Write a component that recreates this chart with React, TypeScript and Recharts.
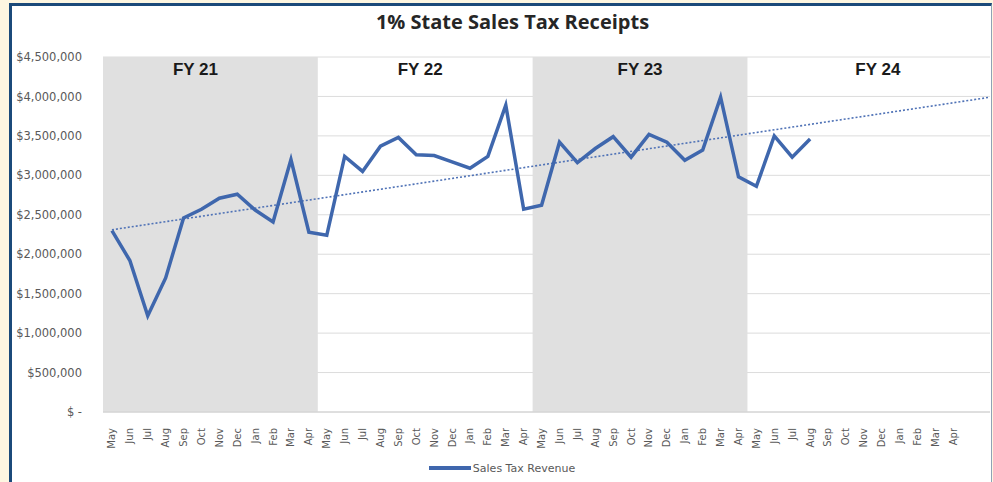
import React from 'react';
import {
  LineChart,
  Line,
  XAxis,
  YAxis,
  CartesianGrid,
  ReferenceArea,
  Legend,
} from 'recharts';

const MONTHS = ['May', 'Jun', 'Jul', 'Aug', 'Sep', 'Oct', 'Nov', 'Dec', 'Jan', 'Feb', 'Mar', 'Apr'];
const FISCAL_YEARS = ['FY 21', 'FY 22', 'FY 23', 'FY 24'];

// monthly receipts, May FY21 .. Aug FY24
const revenue = [
  2300000, 1920000, 1220000, 1700000, 2460000, 2570000, 2710000, 2760000, 2560000, 2410000, 3200000, 2280000,
  2240000, 3240000, 3050000, 3370000, 3480000, 3260000, 3250000, 3170000, 3090000, 3240000, 3890000, 2570000,
  2620000, 3420000, 3160000, 3340000, 3490000, 3230000, 3520000, 3420000, 3190000, 3320000, 3990000, 2980000,
  2860000, 3500000, 3230000, 3460000,
];

// linear trendline (forecast forward past the last month)
const trendMonths = [0, 49.05];
const trendValues = [2310000, 3990000];

const yTicks = [0, 500000, 1000000, 1500000, 2000000, 2500000, 3000000, 3500000, 4000000, 4500000];

const monthLabels = FISCAL_YEARS.flatMap(() => MONTHS);
const monthTicks = monthLabels.map((_, i) => i);

const data = revenue.map((v, i) => ({ m: i, revenue: v }));
const trendData = trendMonths.map((m, i) => ({ m, trend: trendValues[i] }));

const BLUE = '#3f67ad';
const SHADE = '#e0e0e0';

const fmtMoney = (v: number) => (v === 0 ? '$ -' : '$' + v.toLocaleString('en-US'));

const MonthTick = (props: any) => {
  const { x, y, payload } = props;
  return (
    <g transform={`translate(${x},${y})`}>
      <text
        transform="rotate(-90)"
        x={-8}
        y={0}
        dy={3.5}
        textAnchor="end"
        fill="#595959"
        fontSize={10}
        fontFamily="DejaVu Sans, sans-serif"
      >
        {monthLabels[payload.value]}
      </text>
    </g>
  );
};

const LegendContent = (props: any) => {
  const items = (props.payload || []).filter((p: any) => p.type !== 'none');
  return (
    <div style={{ display: 'flex', justifyContent: 'center', alignItems: 'center', height: 24 }}>
      {items.map((p: any) => (
        <div key={p.value} style={{ display: 'flex', alignItems: 'center', marginLeft: 14 }}>
          <div style={{ width: 42, height: 3.5, background: BLUE, marginRight: 2 }} />
          <span style={{ fontFamily: 'DejaVu Sans, sans-serif', fontSize: 11, color: '#595959' }}>{p.value}</span>
        </div>
      ))}
    </div>
  );
};

const fyLabel = (value: string, dx: number) => ({
  value,
  position: 'insideTop' as const,
  offset: 6,
  dx,
  fill: '#1a1a1a',
  fontSize: 17,
  fontWeight: 'bold',
  fontFamily: 'Liberation Sans, Arial, sans-serif',
});

export default function App() {
  return (
    <div style={{ position: 'absolute', left: 0, top: 0, width: 993, height: 482, background: '#fdf6e1', overflow: 'hidden' }}>
      <div
        style={{
          position: 'absolute',
          left: 9,
          top: 3,
          width: 979,
          height: 482,
          background: '#fff',
          borderLeft: '3px solid #1b4a7a',
          borderTop: '3px solid #1b4a7a',
          borderRight: '1px solid #8fa2b6',
        }}
      />
      <div
        style={{
          position: 'absolute',
          left: 16,
          top: 8,
          width: 993,
          textAlign: 'center',
          fontFamily: '"Open Sans", sans-serif',
          fontWeight: 'bold',
          fontSize: 20,
          color: '#262626',
        }}
      >
        1% State Sales Tax Receipts
      </div>
      <div style={{ position: 'absolute', left: 0, top: 0 }}>
        <LineChart width={993} height={482} margin={{ top: 57, right: 3, bottom: 2, left: 0 }}>
          <CartesianGrid horizontal vertical={false} stroke="#dcdcdc" />
          <ReferenceArea x1={-0.5} x2={11.5} y1={0} y2={4500000} fill={SHADE} fillOpacity={1} stroke="none" label={fyLabel(FISCAL_YEARS[0], -15)} />
          <ReferenceArea x1={11.5} x2={23.5} y1={0} y2={4500000} fillOpacity={0} stroke="none" label={fyLabel(FISCAL_YEARS[1], -5)} />
          <ReferenceArea x1={23.5} x2={35.5} y1={0} y2={4500000} fill={SHADE} fillOpacity={1} stroke="none" label={fyLabel(FISCAL_YEARS[2], 0)} />
          <ReferenceArea x1={35.5} x2={47.5} y1={0} y2={4500000} fillOpacity={0} stroke="none" label={fyLabel(FISCAL_YEARS[3], 23)} />
          <XAxis
            type="number"
            dataKey="m"
            domain={[-0.5, 49.05]}
            ticks={monthTicks}
            interval={0}
            allowDataOverflow
            height={44}
            axisLine={{ stroke: '#d0d0d0' }}
            tickLine={false}
            tick={<MonthTick />}
          />
          <YAxis
            domain={[0, 4500000]}
            ticks={yTicks}
            width={103}
            axisLine={false}
            tickLine={false}
            tickSize={0}
            tickMargin={21}
            tickFormatter={fmtMoney}
            tick={{ fill: '#595959', fontSize: 11.5, fontFamily: 'DejaVu Sans, sans-serif' }}
          />
          <Legend verticalAlign="bottom" height={24} content={<LegendContent />} />
          <Line
            data={trendData}
            dataKey="trend"
            type="linear"
            stroke="#4f72b6"
            strokeWidth={1.6}
            strokeDasharray="2 2"
            dot={false}
            legendType="none"
            isAnimationActive={false}
          />
          <Line
            data={data}
            dataKey="revenue"
            name="Sales Tax Revenue"
            type="linear"
            stroke={BLUE}
            strokeWidth={3.5}
            dot={false}
            isAnimationActive={false}
          />
        </LineChart>
      </div>
    </div>
  );
}
